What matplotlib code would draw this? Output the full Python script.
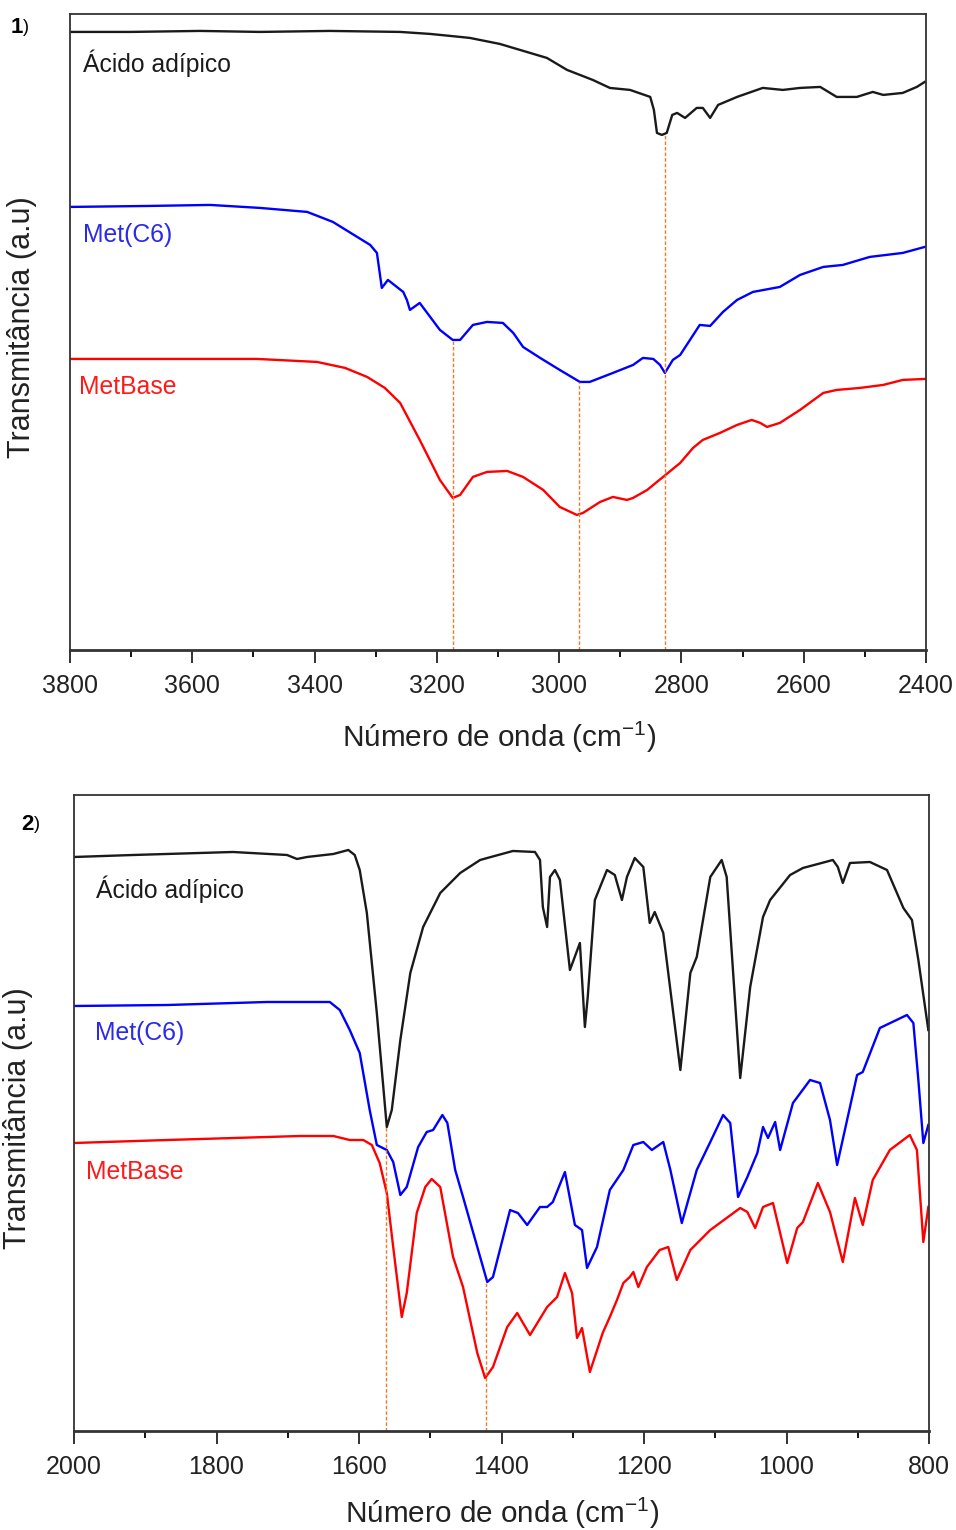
import matplotlib
matplotlib.use("Agg")
import matplotlib.pyplot as plt
from matplotlib.ticker import MultipleLocator

plt.rcParams['font.family'] = ['Liberation Sans', 'DejaVu Sans']
plt.rcParams['mathtext.fontset'] = 'custom'
plt.rcParams['mathtext.rm'] = 'Liberation Sans'

# ---- panel 1 : 3800-2400 cm-1 ----
wn1_acid = [3800, 3702, 3587, 3489, 3375, 3260, 3211, 3178, 3146, 3097, 3020, 2987, 2966, 2945,
            2917, 2884, 2851, 2845, 2840, 2832, 2824, 2815, 2807, 2794, 2775, 2765, 2753, 2740,
            2709, 2667, 2634, 2606, 2573, 2546, 2513, 2487, 2470, 2438, 2415, 2402]
t1_acid = [618, 618, 619, 618, 619, 618, 616, 614, 612, 606, 592, 580, 575, 570,
           562, 560, 553, 540, 517, 515, 517, 535, 537, 532, 542, 542, 532, 545,
           553, 562, 560, 562, 563, 553, 553, 558, 555, 557, 563, 568]

wn1_c6 = [3800, 3669, 3571, 3489, 3412, 3370, 3309, 3298, 3290, 3280, 3255, 3249, 3244, 3228,
          3195, 3174, 3162, 3141, 3118, 3092, 3075, 3059, 3031, 2999, 2966, 2950, 2912, 2879,
          2863, 2846, 2835, 2827, 2814, 2802, 2770, 2753, 2732, 2709, 2683, 2639, 2606, 2568,
          2536, 2492, 2438, 2402]
t1_c6 = [443, 444, 445, 442, 438, 428, 405, 397, 362, 370, 358, 350, 340, 347,
         320, 310, 310, 325, 328, 327, 317, 303, 292, 280, 268, 268, 277, 285,
         292, 291, 285, 277, 290, 295, 325, 324, 338, 350, 358, 363, 375, 383,
         385, 393, 397, 403]

wn1_base = [3800, 3620, 3494, 3396, 3350, 3314, 3285, 3260, 3228, 3195, 3174, 3162, 3141, 3118,
            3085, 3059, 3026, 2999, 2971, 2961, 2933, 2912, 2889, 2879, 2856, 2830, 2802, 2781,
            2765, 2737, 2709, 2685, 2671, 2660, 2639, 2606, 2568, 2546, 2508, 2470, 2438, 2402]
t1_base = [291, 291, 291, 288, 282, 273, 262, 247, 210, 170, 152, 155, 173, 178,
           179, 173, 160, 143, 135, 137, 148, 153, 150, 152, 160, 173, 187, 202,
           210, 217, 225, 230, 227, 223, 227, 240, 257, 260, 262, 265, 270, 271]

marks1_wn = [3174, 2967, 2827]
marks1_top = [310, 268, 515]

# ---- panel 2 : 2000-800 cm-1 ----
wn2_acid = [2000, 1917, 1777, 1701, 1687, 1673, 1636, 1615, 1606, 1599, 1589, 1575, 1561, 1554,
            1542, 1528, 1510, 1486, 1458, 1430, 1420, 1384, 1353, 1346, 1342, 1336, 1332, 1325,
            1318, 1304, 1290, 1283, 1279, 1269, 1252, 1241, 1231, 1224, 1213, 1201, 1192, 1185,
            1173, 1149, 1135, 1126, 1107, 1091, 1084, 1065, 1051, 1033, 1023, 995, 977, 935,
            928, 921, 911, 883, 859, 836, 824, 815, 801]
t2_acid = [574, 576, 579, 576, 572, 574, 577, 581, 576, 561, 518, 418, 304, 321,
           391, 458, 504, 538, 558, 571, 573, 580, 579, 571, 524, 504, 554, 561,
           551, 461, 488, 404, 434, 531, 561, 556, 531, 554, 573, 564, 508, 519,
           498, 361, 458, 474, 554, 571, 554, 353, 444, 514, 531, 556, 563, 571,
           564, 548, 568, 569, 561, 523, 511, 471, 401]

wn2_c6 = [2000, 1869, 1729, 1641, 1627, 1613, 1599, 1585, 1575, 1561, 1552, 1542, 1533, 1517,
          1505, 1496, 1483, 1476, 1465, 1454, 1420, 1412, 1388, 1377, 1364, 1346, 1336, 1328,
          1311, 1297, 1287, 1280, 1266, 1248, 1229, 1215, 1201, 1189, 1173, 1163, 1147, 1126,
          1107, 1089, 1079, 1068, 1055, 1041, 1033, 1026, 1016, 1009, 991, 967, 953, 939,
          929, 915, 901, 893, 869, 831, 822, 815, 808, 801]
t2_c6 = [425, 426, 429, 429, 421, 401, 378, 321, 286, 281, 269, 236, 244, 284,
         299, 301, 316, 308, 261, 234, 149, 154, 221, 218, 206, 224, 224, 229,
         259, 206, 201, 163, 184, 241, 261, 286, 289, 281, 289, 261, 208, 261,
         289, 316, 308, 234, 254, 278, 304, 293, 309, 281, 328, 351, 348, 311,
         266, 311, 356, 359, 403, 416, 408, 351, 288, 306]

wn2_base = [2000, 1869, 1729, 1683, 1636, 1613, 1594, 1582, 1571, 1561, 1552, 1540, 1533, 1519,
            1507, 1498, 1486, 1468, 1454, 1434, 1423, 1412, 1392, 1378, 1360, 1336, 1322, 1311,
            1301, 1294, 1287, 1276, 1258, 1248, 1238, 1229, 1220, 1215, 1208, 1196, 1178, 1166,
            1154, 1135, 1107, 1065, 1055, 1044, 1033, 1019, 999, 985, 977, 956, 939, 921,
            904, 893, 879, 855, 827, 817, 808, 801]
t2_base = [288, 291, 294, 295, 295, 291, 291, 286, 268, 238, 184, 114, 138, 218,
           244, 252, 244, 174, 144, 78, 53, 64, 104, 118, 96, 124, 134, 158,
           138, 93, 103, 59, 98, 114, 131, 148, 154, 159, 144, 164, 181, 184,
           151, 181, 201, 223, 219, 203, 224, 228, 168, 203, 209, 248, 219, 169,
           233, 206, 251, 281, 296, 281, 189, 224]

marks2_wn = [1562, 1422]
marks2_top = [304, 149]

names = ['Ácido adípico', 'Met(C6)', 'MetBase']
colors = ['#1a1a1a', '#0000ff', '#ff0000']
label_colors = ['#1a1a1a', '#2a2ae8', '#ff1a1a']
orange = '#f07a28'

fig = plt.figure(figsize=(9.56, 15.30), dpi=100)
ax1 = fig.add_axes([0.0732, 0.5752, 0.8954, 0.4157])
ax2 = fig.add_axes([0.0774, 0.0647, 0.8944, 0.4157])


def style_axis(ax, xlim):
    ax.set_xlim(*xlim)
    ax.set_ylim(0, 636)
    ax.set_yticks([])
    ax.xaxis.set_major_locator(MultipleLocator(200))
    ax.xaxis.set_minor_locator(MultipleLocator(100))
    ax.tick_params(axis='x', which='major', direction='out', length=9.5, width=1.3,
                   pad=8, labelsize=18, colors='#222222')
    ax.tick_params(axis='x', which='minor', direction='out', length=5, width=1.3)
    ax.tick_params(top=False, right=False, left=False)
    for side in ['top', 'right', 'left']:
        ax.spines[side].set_linewidth(1.3)
        ax.spines[side].set_color('#333333')
    ax.spines['bottom'].set_linewidth(2.0)
    ax.spines['bottom'].set_color('#333333')


# panel 1
series1 = [(wn1_acid, t1_acid), (wn1_c6, t1_c6), (wn1_base, t1_base)]
for (x, y), c in zip(series1, colors):
    ax1.plot(x, y, color=c, lw=1.7, solid_joinstyle='round')
ax1.vlines(marks1_wn, 0, marks1_top, colors=orange, linestyles=(0, (2.5, 1.5)), lw=1.0)
style_axis(ax1, (3800, 2400))
lab1 = [(3779, 587), (3779, 415), (3785, 263)]
for (lx, ly), n, c in zip(lab1, names, label_colors):
    ax1.text(lx, ly, n, color=c, fontsize=17.8, va='center', ha='left')

# panel 2
series2 = [(wn2_acid, t2_acid), (wn2_c6, t2_c6), (wn2_base, t2_base)]
for (x, y), c in zip(series2, colors):
    ax2.plot(x, y, color=c, lw=1.7, solid_joinstyle='round')
ax2.vlines(marks2_wn, 0, marks2_top, colors=orange, linestyles=(0, (2.5, 1.5)), lw=1.0)
style_axis(ax2, (2000, 800))
lab2 = [(1969, 542), (1971, 398), (1983, 259)]
for (lx, ly), n, c in zip(lab2, names, label_colors):
    ax2.text(lx, ly, n, color=c, fontsize=17.8, va='center', ha='left')

# axis titles
xlab = 'Número de onda (cm$^{-1}$)'
fig.text(0.522, 0.5183, xlab, fontsize=21.4, ha='center', va='center', color='#222222')
fig.text(0.525, 0.0111, xlab, fontsize=21.4, ha='center', va='center', color='#222222')
fig.text(0.023, 0.786, 'Transmitância (a.u)', fontsize=22, rotation=90,
         ha='center', va='center', color='#222222')
fig.text(0.0188, 0.2693, 'Transmitância (a.u)', fontsize=22, rotation=90,
         ha='center', va='center', color='#222222')

# panel tags
fig.text(0.0115, 0.9817, '1', fontsize=16, fontweight='bold', ha='left', va='center')
fig.text(0.0245, 0.9817, ')', fontsize=13, ha='left', va='center')
fig.text(0.022, 0.4608, '2', fontsize=16, fontweight='bold', ha='left', va='center')
fig.text(0.035, 0.4608, ')', fontsize=13, ha='left', va='center')

fig.savefig('out.png', dpi=100)
